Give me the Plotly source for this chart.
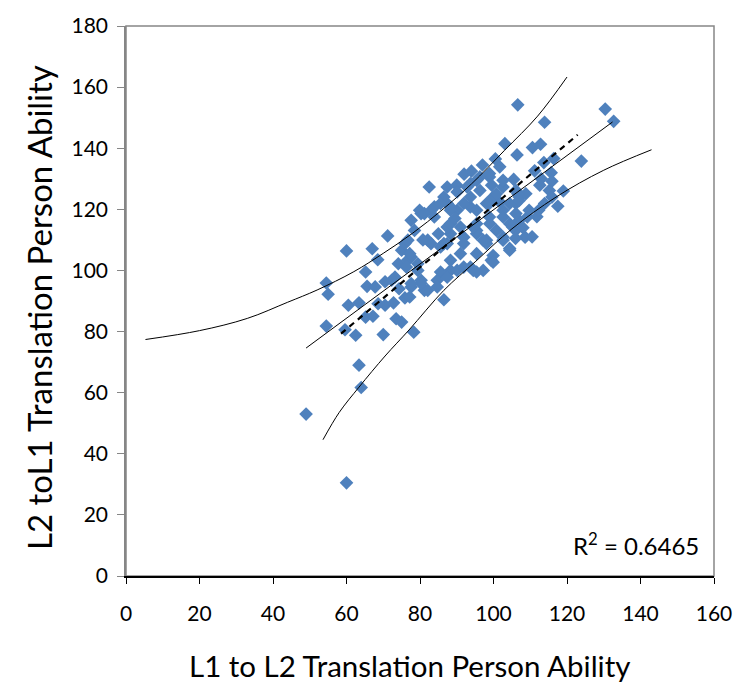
import plotly.graph_objects as go

# Scatter data (L1->L2 ability, L2->L1 ability)
x_vals = [
    49, 60, 64, 63.4, 60, 54.5, 55, 54.5, 59.6, 62.5, 70, 78.3,
    60.5, 63.4, 65.6, 65.2, 65.2, 67.2, 70.5, 72.8, 73.5, 75,
    70.5, 73.2, 74.3, 75.9, 77.6, 71.2, 67, 68.5, 75, 77.6, 79.4, 80.3, 81.2, 85.6, 86.5, 83, 88.3, 94.5, 95.4,
    67.8, 72.3, 68.6, 74.1, 76.6, 75.9, 79.4, 80.3,
    106.6, 130.4, 132.7, 113.9, 103.1, 106.4, 110.6, 112.8, 123.9, 113.7, 116.4, 111.2, 115.7, 115.9, 112.6,
    115.2, 115.9, 113.9, 111.8, 108.6, 104.4, 99.4, 105.5, 106.1, 107, 109.2, 112.3, 101.7, 98.9, 102.6,
    99.9, 106.1, 108.8, 109.7, 102.6, 98.9, 104.4, 107, 100.8, 106, 98.1, 102.6,
    82.5, 87.4, 90, 93.7, 96.3, 99.5, 102.6, 106.6, 104.4, 101.7, 98.1, 93.7, 90.1, 87.4, 83.9, 80.3, 77.6,
    78.5, 76.7, 77.2, 76.3, 77.6, 77.2, 82.1, 84.7, 88.3, 91, 87.4, 91.9, 95.4, 99, 102.6, 106.1, 105.2,
    102.6, 98.1, 95.4, 99.9, 104.4, 93.7, 90.1, 97.2, 99.9, 106, 107,
    86.5, 90.1, 88.3, 92.8, 95.4, 98.9, 79.9, 83, 86.5, 88.3, 91.9, 91.9, 87.4, 84.7, 95.4, 97.2, 94.5, 91,
    87.4, 95.4, 98.9, 100.8,
    81.2, 85.6, 88.3, 91.9, 93.7, 96.3, 83.9, 88.3, 95.4, 82.1, 85.6,
    92, 94, 97, 100.5, 110.5, 117.5, 119, 108, 113, 89.5, 85, 80.8,
]
y_vals = [
    53, 30.5, 61.7, 69, 106.4, 95.9, 92.2, 81.8, 80.6, 78.8, 79, 79.8,
    88.6, 89.4, 94.8, 99.5, 84.7, 85, 88.6, 89.4, 84.2, 83.1,
    96.3, 97.8, 94, 91, 94.6, 111.3, 107.1, 103.5, 106.6, 104.4, 102.2, 96.8, 93.5, 99.5, 90.4, 108.8, 112, 100, 112,
    94.6, 96.8, 89.1, 102.2, 103.3, 108.8, 100, 95.7,
    154.2, 152.8, 148.8, 148.5, 141.5, 137.8, 140.2, 141.3, 135.8, 135.3, 136.6, 132.6, 132, 129.2, 127.9,
    126.2, 124, 121.9, 117.6, 110.9, 107.2, 103.3, 129.8, 126.2, 124, 117.5, 119.7, 133.9, 130.6, 127.3,
    124, 121.9, 125.1, 119.7, 119.7, 117.5, 115.3, 116.4, 113.1, 113.1, 109.9, 109.9,
    127.3, 127.3, 127.9, 128.4, 130.6, 127.9, 129.5, 125.1, 121.9, 122.4, 121.9, 120.8, 119.7, 121.9, 120.8, 118.6, 116.4,
    113.1, 109.9, 105.5, 101.1, 95.7, 91.3, 93.5, 96.8, 100, 105.5, 108.8, 110.9, 113.1, 115.3, 117.5, 118.6, 114.2,
    110.9, 108.8, 105.5, 104.9, 106.6, 101.1, 100, 100, 102.7, 110.5, 122.9,
    124, 125.7, 120.8, 127.3, 129.5, 131.7, 119.7, 119.7, 108.8, 103.3, 108.8, 101.1, 97.8, 94.6, 99.5, 109.9, 114.2, 114.2,
    114.2, 119.7, 121.9, 125.1,
    118.6, 121.9, 119.7, 121.9, 124, 126.2, 117.5, 115.3, 115.3, 109.9, 107.7,
    131.5, 132.5, 134.5, 136.5, 111, 121, 126, 114, 130, 117, 112, 110,
]

# Fitted line (solid), Excel linear trendline (dashed) and the two curved bands
fit_x = [49, 132.4]
fit_y = [74.6, 148.6]
trend_x = [58.5, 122.9]
trend_y = [79.3, 144.4]
upper_x = [5.3, 20, 33, 44, 52, 62, 70, 78, 86, 94, 103, 112, 120]
upper_y = [77.4, 80.3, 84.3, 89.6, 93.6, 99.6, 105.6, 112.2, 119.8, 128.3, 139.3, 150.5, 163.3]
lower_x = [53.6, 58, 63.4, 70.5, 77, 86.5, 95, 105, 117, 130, 143]
lower_y = [44.6, 53.5, 61.8, 72, 80.5, 93.5, 102.8, 113.6, 124, 132.8, 139.5]

x_ticks = [0, 20, 40, 60, 80, 100, 120, 140, 160]
y_ticks = [0, 20, 40, 60, 80, 100, 120, 140, 160, 180]

FONT = "Lato, 'Open Sans', sans-serif"

fig = go.Figure()
fig.add_trace(go.Scatter(x=x_vals, y=y_vals, mode="markers",
                         marker=dict(symbol="diamond", size=10.5, color="#4F81BD",
                                     line=dict(width=0)),
                         showlegend=False))
fig.add_trace(go.Scatter(x=upper_x, y=upper_y, mode="lines",
                         line=dict(color="black", width=1, shape="spline", smoothing=1.0),
                         showlegend=False))
fig.add_trace(go.Scatter(x=lower_x, y=lower_y, mode="lines",
                         line=dict(color="black", width=1, shape="spline", smoothing=1.0),
                         showlegend=False))
fig.add_trace(go.Scatter(x=fit_x, y=fit_y, mode="lines",
                         line=dict(color="black", width=1), showlegend=False))
fig.add_trace(go.Scatter(x=trend_x, y=trend_y, mode="lines",
                         line=dict(color="black", width=2.2, dash="6px,5px"), showlegend=False))

fig.update_layout(
    width=744, height=684,
    margin=dict(l=126, r=19, t=26, b=108),
    paper_bgcolor="white", plot_bgcolor="white",
    font=dict(family=FONT, color="black", size=21),
    xaxis=dict(range=[0, 160], tickvals=x_ticks, ticktext=[str(v) for v in x_ticks],
               showgrid=False, zeroline=False, showline=True, linecolor="black", linewidth=1.5,
               ticks="outside", ticklen=6, tickcolor="black", tickwidth=1.2,
               ticklabelstandoff=12, ticklabeloverflow="allow", tickfont=dict(size=21)),
    yaxis=dict(range=[0, 180], tickvals=y_ticks, ticktext=[str(v) for v in y_ticks],
               showgrid=False, zeroline=False, showline=True, linecolor="#868686", linewidth=1.5,
               ticks="outside", ticklen=7, tickcolor="#868686", tickwidth=1.2,
               ticklabelstandoff=5, ticklabeloverflow="allow", tickfont=dict(size=21)),
    shapes=[dict(type="rect", xref="paper", yref="paper", x0=0, x1=1, y0=0, y1=1,
                 line=dict(color="#868686", width=1.5), layer="below")],
    annotations=[
        dict(text="R<sup>2</sup> = 0.6465", xref="paper", yref="paper", x=0.978, y=0.058,
             xanchor="right", yanchor="middle", showarrow=False, font=dict(size=24)),
        dict(text="L1 to L2 Translation Person Ability", xref="paper", yref="paper",
             x=(415 - 126) / 599, y=-(665 - 575.6) / 550, xanchor="center", yanchor="middle",
             showarrow=False, font=dict(size=29.5)),
        dict(text="L2 toL1 Translation Person Ability", xref="paper", yref="paper",
             x=-(126 - 38) / 599, y=(575.6 - 307) / 550, xanchor="center", yanchor="middle",
             textangle=-90, showarrow=False, font=dict(size=33)),
    ],
)

fig.write_html("out.html", config={"displayModeBar": False},
               post_script="document.body.style.margin='0';")
